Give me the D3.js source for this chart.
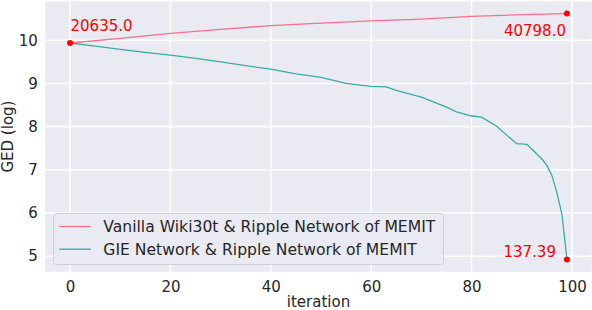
<!DOCTYPE html>
<html><head><meta charset="utf-8">
<script src="https://cdn.jsdelivr.net/npm/d3@7"></script>
<style>
html,body{margin:0;padding:0;background:#fff;}
svg text{font-family:"DejaVu Sans",sans-serif;}
</style></head>
<body><svg id="c" width="592" height="310"></svg>
<script>
// ---- data ----
const vanillaIter = [0, 10, 20, 30, 40, 50, 60, 70, 80, 90, 99];
const vanillaVal  = [9.935, 10.04, 10.157, 10.25, 10.337, 10.395, 10.446, 10.49, 10.55, 10.59, 10.616];
const gieIter = [0, 5, 10, 15, 20, 25, 30, 35, 40, 45, 50, 55, 60, 63, 65, 70, 75, 77, 80, 82, 85, 88, 89, 91, 92, 94, 95, 96, 97, 98, 99];
const gieVal  = [9.935, 9.864, 9.79, 9.72, 9.654, 9.58, 9.50, 9.41, 9.328, 9.22, 9.14, 9.00, 8.93, 8.92, 8.84, 8.68, 8.45, 8.34, 8.245, 8.22, 8.01, 7.70, 7.605, 7.59, 7.48, 7.25, 7.10, 6.87, 6.47, 5.97, 4.923];
const seriesNames = ["Vanilla Wiki30t & Ripple Network of MEMIT", "GIE Network & Ripple Network of MEMIT"];
const seriesColors = ["#f77189", "#36ada4"];
const annotations = [
  {iter: 0, val: 9.935, label: "20635.0"},
  {iter: 99, val: 10.616, label: "40798.0"},
  {iter: 99, val: 4.923, label: "137.39"}
];
const xTicks = [0, 20, 40, 60, 80, 100];
const yTicks = [5, 6, 7, 8, 9, 10];
const xLabel = "iteration", yLabel = "GED (log)";

// ---- layout ----
const L = 45.2, R = 591.8, T = 1.3, B = 271.8;
const svg = d3.select("#c");
const allVals = vanillaVal.concat(gieVal);
const ymin = d3.min(allVals), ymax = d3.max(allVals), ym = (ymax - ymin) * 0.05;
const x = d3.scaleLinear().domain([-4.95, 103.95]).range([L, R]);
const y = d3.scaleLinear().domain([ymin - ym, ymax + ym]).range([B, T]);

svg.append("rect").attr("x", L).attr("y", T).attr("width", R - L).attr("height", B - T).attr("fill", "#eaeaf2");

const g = svg.append("g");
g.selectAll(".gx").data(xTicks).join("line")
  .attr("x1", d => x(d)).attr("x2", d => x(d)).attr("y1", T).attr("y2", B)
  .attr("stroke", "#fff").attr("stroke-width", 1.5);
g.selectAll(".gy").data(yTicks).join("line")
  .attr("x1", L).attr("x2", R).attr("y1", d => y(d)).attr("y2", d => y(d))
  .attr("stroke", "#fff").attr("stroke-width", 1.5);

// axes (tick labels only)
const xAxis = d3.axisBottom(x).tickValues(xTicks).tickSize(0).tickPadding(0).tickFormat(d3.format("d"));
const xg = svg.append("g").attr("transform", `translate(0,${B})`).call(xAxis);
xg.select(".domain").remove();
xg.selectAll("text").attr("font-size", 15).attr("fill", "#262626").attr("dy", null).attr("y", 20.3)
  .attr("font-family", "DejaVu Sans");
const yAxis = d3.axisLeft(y).tickValues(yTicks).tickSize(0).tickPadding(0).tickFormat(d3.format("d"));
const yg = svg.append("g").attr("transform", `translate(37.8,0)`).call(yAxis);
yg.select(".domain").remove();
yg.selectAll("text").attr("font-size", 15).attr("fill", "#262626").attr("font-family", "DejaVu Sans");

svg.append("text").attr("x", (L + R) / 2).attr("y", 307.3).attr("text-anchor", "middle")
  .attr("font-size", 15).attr("fill", "#262626").text(xLabel);
svg.append("text").attr("transform", `translate(12.5,${(T + B) / 2}) rotate(-90)`).attr("text-anchor", "middle")
  .attr("font-size", 15).attr("fill", "#262626").text(yLabel);

// lines
const line = d3.line().x(d => x(d[0])).y(d => y(d[1]));
const series = [d3.zip(vanillaIter, vanillaVal), d3.zip(gieIter, gieVal)];
series.forEach((s, i) => {
  svg.append("path").datum(s).attr("d", line).attr("fill", "none")
    .attr("stroke", seriesColors[i]).attr("stroke-width", 1.3);
});

// points + annotations
svg.selectAll(".pt").data(annotations).join("circle")
  .attr("cx", d => x(d.iter)).attr("cy", d => y(d.val)).attr("r", 3).attr("fill", "red");
const anchors = ["start", "end", "end"];
const dxs = [0.5, -1, -11];
const dys = [-12.5, 22.5, -2.5];
svg.selectAll(".ann").data(annotations).join("text")
  .attr("x", (d, i) => x(d.iter) + dxs[i]).attr("y", (d, i) => y(d.val) + dys[i])
  .attr("text-anchor", (d, i) => anchors[i]).attr("font-size", 15).attr("fill", "red").text(d => d.label);

// legend
const lg = svg.append("g");
lg.append("rect").attr("x", 53.5).attr("y", 213.5).attr("width", 390).attr("height", 51).attr("rx", 3)
  .attr("fill", "#eaeaf2").attr("fill-opacity", 0.9).attr("stroke", "#cfcfd6").attr("stroke-width", 1);
seriesNames.forEach((n, i) => {
  const yy = 226.5 + i * 22.7;
  lg.append("line").attr("x1", 59.3).attr("x2", 90.7).attr("y1", yy).attr("y2", yy)
    .attr("stroke", seriesColors[i]).attr("stroke-width", 1.3);
  lg.append("text").attr("x", 103.3).attr("y", yy + 5.6).attr("font-size", 15.6).attr("fill", "#262626").text(n);
});
</script></body></html>
